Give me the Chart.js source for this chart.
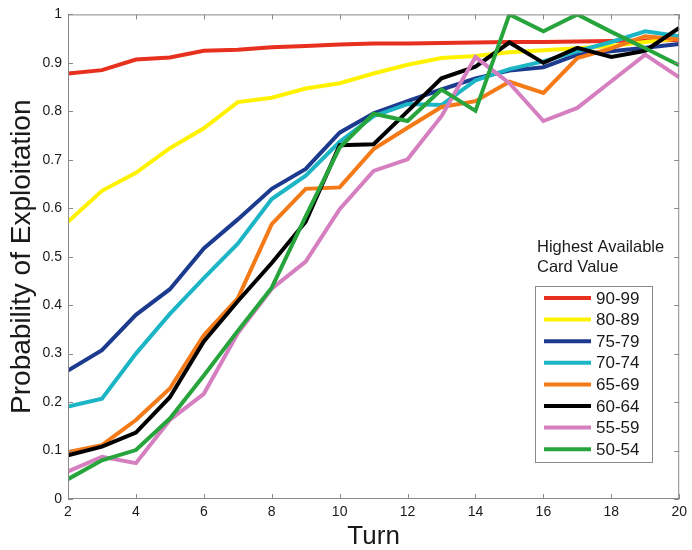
<!DOCTYPE html>
<html>
<head>
<meta charset="utf-8">
<script src="https://cdn.jsdelivr.net/npm/chart.js@4"></script>
<style>
  html, body { margin: 0; padding: 0; background: #fff; }
  #wrap { width: 692px; height: 550px; position: relative; }
</style>
</head>
<body>
<div id="wrap"><canvas id="exploit"></canvas></div>
<script>
// ----------------- DATA -----------------
const turns = [2, 3, 4, 5, 6, 7, 8, 9, 10, 11, 12, 13, 14, 15, 16, 17, 18, 19, 20];

const p90to99 = [0.878, 0.885, 0.907, 0.911, 0.925, 0.927, 0.932, 0.935, 0.938, 0.940, 0.940, 0.941, 0.942, 0.943, 0.943, 0.944, 0.945, 0.946, 0.947];
const p80to89 = [0.572, 0.636, 0.673, 0.724, 0.765, 0.819, 0.828, 0.847, 0.858, 0.878, 0.896, 0.910, 0.914, 0.922, 0.926, 0.930, 0.935, 0.943, 0.950];
const p75to79 = [0.265, 0.307, 0.380, 0.433, 0.517, 0.577, 0.640, 0.681, 0.756, 0.796, 0.821, 0.845, 0.868, 0.884, 0.891, 0.917, 0.924, 0.931, 0.939];
const p70to74 = [0.191, 0.207, 0.300, 0.382, 0.456, 0.527, 0.619, 0.667, 0.737, 0.790, 0.815, 0.813, 0.864, 0.887, 0.903, 0.924, 0.943, 0.965, 0.955];
const p65to69 = [0.097, 0.111, 0.163, 0.228, 0.338, 0.414, 0.567, 0.640, 0.643, 0.722, 0.766, 0.809, 0.821, 0.861, 0.838, 0.910, 0.930, 0.955, 0.948];
const p60to64 = [0.090, 0.108, 0.137, 0.210, 0.325, 0.408, 0.487, 0.572, 0.730, 0.732, 0.800, 0.868, 0.892, 0.942, 0.900, 0.931, 0.912, 0.925, 0.972];
const p55to59 = [0.057, 0.087, 0.074, 0.163, 0.217, 0.342, 0.434, 0.490, 0.598, 0.677, 0.701, 0.790, 0.912, 0.858, 0.780, 0.807, 0.862, 0.917, 0.870];
const p50to54 = [0.041, 0.080, 0.101, 0.166, 0.255, 0.347, 0.436, 0.583, 0.725, 0.795, 0.780, 0.845, 0.801, 1.000, 0.965, 1.000, 0.964, 0.930, 0.895];

const groupLabels = ["90-99", "80-89", "75-79", "70-74", "65-69", "60-64", "55-59", "50-54"];
const groupValues = [p90to99, p80to89, p75to79, p70to74, p65to69, p60to64, p55to59, p50to54];
const groupColors = ["#e8301f", "#fff200", "#1c3a8e", "#1bb5c5", "#f47a18", "#000000", "#d57fc0", "#27a53c"];

const xTicks = [2, 4, 6, 8, 10, 12, 14, 16, 18, 20];
const yTicks = [0, 0.1, 0.2, 0.3, 0.4, 0.5, 0.6, 0.7, 0.8, 0.9, 1];

const legendTitle = ["Highest Available", "Card Value"];

// ----------------- STYLE -----------------
const FONT = "'Liberation Sans', Arial, Helvetica, sans-serif";
const AXIS_COLOR = "#8a8a8a";
const TEXT_COLOR = "#1a1a1a";
const TICK_LEN = 5;

// ----------------- PLUGINS -----------------
// box round the axes, with matlab-style inward ticks on all four sides
const boxTicks = {
  id: "boxTicks",
  afterDatasetsDraw(chart) {
    const { ctx, chartArea: a, scales: { x, y } } = chart;
    ctx.save();
    ctx.strokeStyle = AXIS_COLOR;
    ctx.lineWidth = 1;
    ctx.strokeRect(a.left + 0.5, a.top + 0.5, a.right - a.left - 1, a.bottom - a.top - 1);
    ctx.beginPath();
    xTicks.forEach(v => {
      const px = Math.round(x.getPixelForValue(v)) + 0.5;
      ctx.moveTo(px, a.bottom); ctx.lineTo(px, a.bottom - TICK_LEN);
      ctx.moveTo(px, a.top); ctx.lineTo(px, a.top + TICK_LEN);
    });
    yTicks.forEach(v => {
      const py = Math.round(y.getPixelForValue(v)) + 0.5;
      ctx.moveTo(a.left, py); ctx.lineTo(a.left + TICK_LEN, py);
      ctx.moveTo(a.right, py); ctx.lineTo(a.right - TICK_LEN, py);
    });
    ctx.stroke();
    ctx.restore();
  }
};

// legend box inside the plot, lower right, with its title above it
const boxLegend = {
  id: "boxLegend",
  afterDraw(chart) {
    const { ctx } = chart;
    const left = 535, top = 286, w = 117, h = 176, rowH = 21.6;
    ctx.save();
    ctx.font = "16.5px " + FONT;
    ctx.fillStyle = TEXT_COLOR;
    ctx.textBaseline = "middle";
    ctx.textAlign = "left";
    ctx.fillText(legendTitle[0], 537, 247);
    ctx.fillText(legendTitle[1], 537, 267);

    ctx.fillStyle = "#fff";
    ctx.fillRect(left, top, w, h);
    ctx.strokeStyle = AXIS_COLOR;
    ctx.lineWidth = 1;
    ctx.strokeRect(left + 0.5, top + 0.5, w, h);

    ctx.font = "17px " + FONT;
    chart.data.datasets.forEach((ds, i) => {
      const cy = top + 12 + i * rowH;
      ctx.strokeStyle = ds.borderColor;
      ctx.lineWidth = 4;
      ctx.beginPath();
      ctx.moveTo(544, cy);
      ctx.lineTo(591, cy);
      ctx.stroke();
      ctx.fillStyle = TEXT_COLOR;
      ctx.fillText(ds.label, 596, cy + 1);
    });
    ctx.restore();
  }
};

// ----------------- CHART -----------------
const datasets = groupLabels.map((label, i) => ({
  label,
  data: turns.map((t, k) => ({ x: t, y: groupValues[i][k] })),
  borderColor: groupColors[i],
  backgroundColor: groupColors[i],
  borderWidth: 4,
  pointRadius: 0,
  tension: 0,
  clip: 0,
  // later groups are painted on top
  order: groupLabels.length - 1 - i
}));

new Chart(document.getElementById("exploit"), {
  type: "line",
  data: { datasets },
  options: {
    responsive: true,
    maintainAspectRatio: false,
    animation: false,
    layout: { padding: { top: 13, right: 8, left: 0, bottom: 0 } },
    plugins: {
      legend: { display: false },
      tooltip: { enabled: false }
    },
    scales: {
      x: {
        type: "linear",
        min: 2,
        max: 20,
        afterBuildTicks: s => { s.ticks = xTicks.map(v => ({ value: v })); },
        afterFit: s => { s.height = 51; },
        grid: { display: false, drawTicks: false },
        border: { display: false },
        ticks: {
          padding: 5,
          color: TEXT_COLOR,
          maxRotation: 0,
          font: { family: FONT, size: 14 }
        },
        title: {
          display: true,
          text: "Turn",
          color: TEXT_COLOR,
          font: { family: FONT, size: 26, lineHeight: 1 },
          padding: { top: 0, bottom: 0 }
        }
      },
      y: {
        min: 0,
        max: 1,
        afterBuildTicks: s => { s.ticks = yTicks.map(v => ({ value: v })); },
        afterFit: s => { s.width = 68; },
        grid: { display: false, drawTicks: false },
        border: { display: false },
        ticks: {
          padding: 6,
          color: TEXT_COLOR,
          font: { family: FONT, size: 14 },
          callback: v => String(Math.round(v * 10) / 10)
        },
        title: {
          display: true,
          text: "Probability of Exploitation",
          color: TEXT_COLOR,
          font: { family: FONT, size: 28, lineHeight: 1 },
          padding: { top: 8, bottom: 0 }
        }
      }
    }
  },
  plugins: [boxTicks, boxLegend]
});
</script>
</body>
</html>
